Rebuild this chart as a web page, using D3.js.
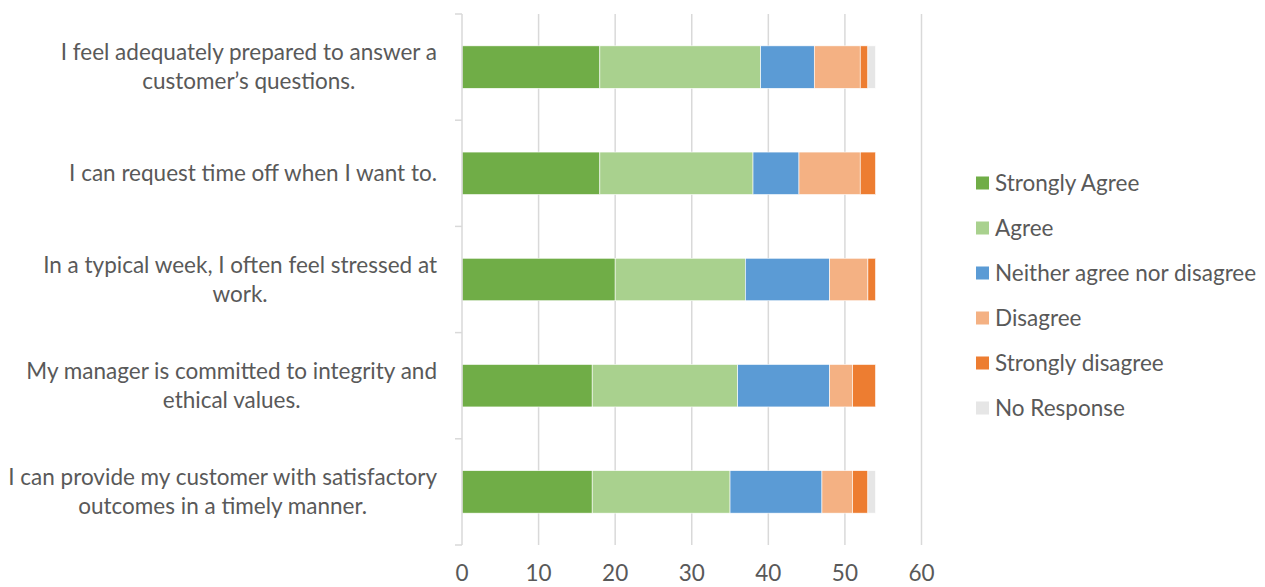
<!DOCTYPE html>
<html>
<head>
<meta charset="utf-8">
<script src="https://cdn.jsdelivr.net/npm/d3@7"></script>
<style>
  body { margin: 0; background: #fff; }
  text { font-family: Lato, "Open Sans", sans-serif; fill: #595959; }
</style>
</head>
<body>
<div id="chart"></div>
<script>
var questions = [
  ["I feel adequately prepared to answer a", "customer\u2019s questions."],
  ["I can request time off when I want to."],
  ["In a typical week, I often feel stressed at", "work."],
  ["My manager is committed to integrity and", "ethical values."],
  ["I can provide my customer with satisfactory", "outcomes in a timely manner."]
];
var seriesNames = ["Strongly Agree", "Agree", "Neither agree nor disagree", "Disagree", "Strongly disagree", "No Response"];
var seriesColors = ["#70ad47", "#a9d18e", "#5b9bd5", "#f4b183", "#ed7d31", "#e6e6e6"];
var stronglyAgree = [18, 18, 20, 17, 17];
var agree = [21, 20, 17, 19, 18];
var neither = [7, 6, 11, 12, 12];
var disagree = [6, 8, 5, 3, 4];
var stronglyDisagree = [1, 2, 1, 3, 2];
var noResponse = [1, 0, 0, 0, 1];
var xTicks = [0, 10, 20, 30, 40, 50, 60];

var W = 1265, H = 587;
var plot = {left: 462, right: 921.5, top: 14, bottom: 545};
var fontSize = "22.5px";

var rows = questions.map(function(q, i) {
  return {
    id: i, label: q,
    "Strongly Agree": stronglyAgree[i], "Agree": agree[i],
    "Neither agree nor disagree": neither[i], "Disagree": disagree[i],
    "Strongly disagree": stronglyDisagree[i], "No Response": noResponse[i]
  };
});

var x = d3.scaleLinear().domain([0, 60]).range([plot.left, plot.right]);
var y = d3.scaleBand().domain(d3.range(questions.length)).range([plot.top, plot.bottom]).paddingInner(0.6).paddingOuter(0.3);
var band = d3.scaleBand().domain(d3.range(questions.length)).range([plot.top, plot.bottom]);
var color = d3.scaleOrdinal().domain(seriesNames).range(seriesColors);

var svg = d3.select("#chart").append("svg").attr("width", W).attr("height", H);

// gridlines
svg.append("g").attr("class", "grid")
  .selectAll("line").data(xTicks.slice(1)).enter().append("line")
  .attr("x1", function(d) { return x(d); }).attr("x2", function(d) { return x(d); })
  .attr("y1", plot.top).attr("y2", plot.bottom)
  .attr("stroke", "#d9d9d9").attr("stroke-width", 1.5);

// x labels
svg.append("g").selectAll("text").data(xTicks).enter().append("text")
  .attr("x", function(d) { return x(d); }).attr("y", 581)
  .attr("text-anchor", "middle").style("font-size", fontSize)
  .text(function(d) { return d; });

// stacked bars
var stack = d3.stack().keys(seriesNames)(rows);
svg.append("g").selectAll("g").data(stack).enter().append("g")
  .attr("fill", function(d) { return color(d.key); })
  .selectAll("rect").data(function(d) { return d; }).enter().append("rect")
  .attr("x", function(d) { return x(d[0]); })
  .attr("width", function(d) { return x(d[1]) - x(d[0]); })
  .attr("y", function(d) { return y(d.data.id); })
  .attr("height", y.bandwidth())
  .attr("stroke", "#fff").attr("stroke-width", 0.6);

// left axis with ticks at band edges
var yAxis = svg.append("g");
yAxis.append("line").attr("x1", plot.left).attr("x2", plot.left)
  .attr("y1", plot.top).attr("y2", plot.bottom)
  .attr("stroke", "#d9d9d9").attr("stroke-width", 1.5);
yAxis.selectAll(".tick").data(d3.range(questions.length + 1)).enter().append("line")
  .attr("x1", plot.left - 7).attr("x2", plot.left)
  .attr("y1", function(d) { return plot.top + d * band.step(); })
  .attr("y2", function(d) { return plot.top + d * band.step(); })
  .attr("stroke", "#d9d9d9").attr("stroke-width", 1.5);

// category labels: block right-aligned, lines centred within block
var lineH = 29, labelRight = 437;
rows.forEach(function(r) {
  var g = svg.append("g");
  var cy = band(r.id) + band.bandwidth() / 2;
  var texts = g.selectAll("text").data(r.label).enter().append("text")
    .style("font-size", fontSize)
    .attr("text-anchor", "middle")
    .attr("y", function(d, j) { return cy + 7.5 + (j - (r.label.length - 1) / 2) * lineH; })
    .text(function(d) { return d; });
  var maxW = d3.max(texts.nodes(), function(n) { return n.getComputedTextLength(); });
  texts.attr("x", labelRight - maxW / 2);
});

// legend
var legend = svg.append("g").selectAll("g").data(seriesNames).enter().append("g")
  .attr("transform", function(d, i) { return "translate(976," + (183 + i * 45) + ")"; });
legend.append("rect").attr("x", 0).attr("y", -6.5).attr("width", 13).attr("height", 13)
  .attr("fill", function(d) { return color(d); });
legend.append("text").attr("x", 19).attr("y", 8).style("font-size", fontSize)
  .text(function(d) { return d; });
</script>
</body>
</html>
